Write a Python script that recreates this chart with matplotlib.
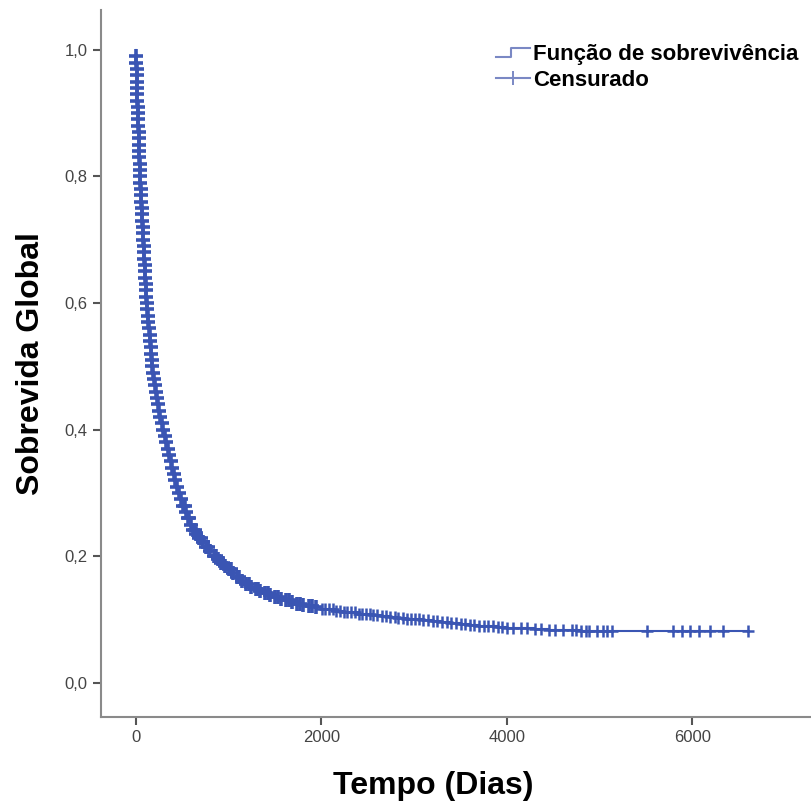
import numpy as np
import matplotlib.pyplot as plt
from matplotlib.lines import Line2D
from matplotlib.legend_handler import HandlerBase
from matplotlib.ticker import FuncFormatter

# tabela de Kaplan-Meier (tempo em dias, sobrevida)
tempos = [0, 2, 4, 6, 8, 10, 12, 14, 16, 18, 20, 23, 25, 28, 30, 33, 35, 38, 40, 43, 45,
          48, 51, 55, 58, 61, 65, 68, 71, 75, 78, 82, 86, 90, 93, 97, 101, 105, 109, 112,
          116, 122, 128, 134, 141, 147, 153, 159, 166, 172, 178,
          186, 195, 204, 214, 225, 237, 250, 263, 277, 292, 308, 324, 341, 358, 375,
          392, 410, 425, 445, 465,
          487, 510, 535, 560, 590, 620, 650, 685, 720, 760, 800, 840, 880, 920, 960,
          1000, 1045, 1090, 1140, 1190, 1240, 1290, 1340, 1390, 1445, 1500, 1560, 1620,
          1680, 1740, 1800, 1870, 1940, 2010, 2080, 2160, 2240, 2320, 2400, 2480, 2560,
          2650, 2740, 2830, 2920, 3010, 3100, 3200, 3300, 3400, 3500, 3600, 3700, 3800,
          3900, 4000, 4150, 4300, 4450, 4600, 4800, 6600]
sobrevida = [1.00, 0.99, 0.98, 0.97, 0.96, 0.95, 0.94, 0.93, 0.92, 0.91, 0.90, 0.89,
             0.88, 0.87, 0.86, 0.85, 0.84, 0.83, 0.82, 0.81, 0.80, 0.79, 0.78, 0.77,
             0.76, 0.75, 0.74, 0.73, 0.72, 0.71, 0.70, 0.69, 0.68, 0.67, 0.66, 0.65,
             0.64, 0.63, 0.62, 0.61, 0.60, 0.59, 0.58, 0.57, 0.56, 0.55, 0.54, 0.53,
             0.52, 0.51, 0.50,
             0.49, 0.48, 0.47, 0.46, 0.45, 0.44, 0.43, 0.42, 0.41, 0.40, 0.39, 0.38,
             0.37, 0.36, 0.35, 0.34, 0.33, 0.32, 0.31, 0.30,
             0.29, 0.28, 0.27, 0.26, 0.25, 0.242, 0.235, 0.228, 0.222, 0.215, 0.208,
             0.201, 0.195, 0.189, 0.184, 0.179, 0.173, 0.167, 0.161, 0.156, 0.152,
             0.148, 0.145, 0.142, 0.139, 0.136, 0.133, 0.130, 0.127, 0.125, 0.123,
             0.121, 0.119, 0.117, 0.116, 0.114, 0.112, 0.111, 0.109, 0.108, 0.107,
             0.106, 0.104, 0.103, 0.101, 0.100, 0.099, 0.097, 0.096, 0.094, 0.093,
             0.091, 0.090, 0.089, 0.088, 0.087, 0.086, 0.085, 0.084, 0.083, 0.082, 0.082]

# censuras fora dos tempos de evento
censurados_extra = [530, 575, 635, 700, 780, 860, 940, 1020, 1115, 1215, 1315, 1420,
                    1530, 1650, 1770, 1900,
                    2040, 2120, 2200, 2280, 2360, 2440, 2520, 2600, 2700, 2790, 2880,
                    2970, 3050, 3150, 3250, 3350, 3450, 3550, 3650, 3750, 3850, 3950,
                    4070, 4220, 4370, 4520, 4700, 4750, 4850, 4880, 4970, 5035, 5080,
                    5130, 5510, 5790, 5885, 5975, 6070, 6190, 6330]

cor = '#3A55B3'
plt.rcParams['font.family'] = ['Liberation Sans', 'DejaVu Sans']

t = np.array(tempos)
s = np.array(sobrevida)
c = np.array(sorted(tempos[1:] + censurados_extra))
s_c = s[np.searchsorted(t, c, side='right') - 1]

fig = plt.figure(figsize=(8.12, 8.01), dpi=100)
ax = fig.add_axes([0.1244, 0.105, 0.8756, 0.8825])
ax.step(t, s, where='post', color=cor, lw=1.5)
ax.plot(c[c < 2000], s_c[c < 2000], '+', color=cor, ms=10, mew=2.6)
ax.plot(c[c >= 2000], s_c[c >= 2000], '+', color=cor, ms=9, mew=1.8)

ax.set_xlim(-377, 7290)
ax.set_ylim(-0.054, 1.063)
ax.set_xticks([0, 2000, 4000, 6000])
ax.set_yticks([0, 0.2, 0.4, 0.6, 0.8, 1.0])
ax.yaxis.set_major_formatter(FuncFormatter(lambda v, p: f'{v:.1f}'.replace('.', ',')))
for lado in ['top', 'right']:
    ax.spines[lado].set_visible(False)
for lado in ['left', 'bottom']:
    ax.spines[lado].set_color('#8a8a8a')
    ax.spines[lado].set_linewidth(1.5)
ax.tick_params(length=6, width=1.5, color='#555555', labelsize=12, labelcolor='#444444')
ax.set_xlabel('Tempo (Dias)', fontsize=23, fontweight='bold')
ax.set_ylabel('Sobrevida Global', fontsize=23, fontweight='bold')
ax.xaxis.set_label_coords(0.467, -0.0764)
ax.yaxis.set_label_coords(-0.0775, 0.5)


class HandlerDegrau(HandlerBase):
    def create_artists(self, legend, orig, xd, yd, w, h, fontsize, trans):
        xs = [xd, xd + w * 0.45, xd + w * 0.45, xd + w]
        ys = [yd + h * 0.2, yd + h * 0.2, yd + h * 0.75, yd + h * 0.75]
        return [Line2D(xs, ys, color='#7A88C4', lw=1.5, transform=trans)]


h1 = Line2D([], [], color='#7A88C4')
h2 = Line2D([], [], color='#7A88C4', marker='+', ms=10, mew=1.4, lw=1.5)
ax.legend([h1, h2], ['Função de sobrevivência', 'Censurado'],
          handler_map={h1: HandlerDegrau()}, loc='upper left',
          bbox_to_anchor=(0.543, 0.965), frameon=False, handlelength=1.55,
          handletextpad=0.1, labelspacing=0.25, borderaxespad=0.0,
          prop={'size': 16, 'weight': 'bold'})

fig.savefig('out.png', dpi=100)
